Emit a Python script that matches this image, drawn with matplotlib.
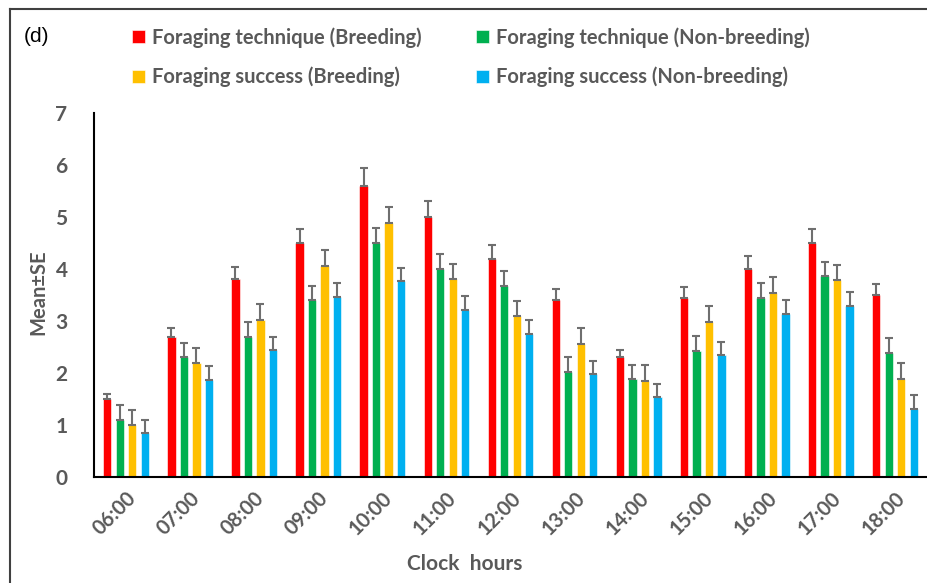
import numpy as np
import matplotlib
matplotlib.use('Agg')
import matplotlib.pyplot as plt
from matplotlib.lines import Line2D

plt.rcParams['font.family'] = ['Lato', 'DejaVu Sans']

#%% data
hours = ['06:00', '07:00', '08:00', '09:00', '10:00', '11:00', '12:00',
         '13:00', '14:00', '15:00', '16:00', '17:00', '18:00']

tech_breeding = [1.5, 2.7, 3.8, 4.5, 5.6, 5.0, 4.2, 3.4, 2.3, 3.45, 4.0, 4.5, 3.5]
tech_breeding_se = [0.10, 0.16, 0.23, 0.27, 0.34, 0.31, 0.26, 0.22, 0.15, 0.21, 0.25, 0.27, 0.21]

tech_nonbreeding = [1.1, 2.3, 2.7, 3.4, 4.5, 4.0, 3.68, 2.02, 1.88, 2.43, 3.45, 3.87, 2.39]
tech_nonbreeding_se = [0.28, 0.28, 0.28, 0.28, 0.28, 0.28, 0.28, 0.28, 0.28, 0.28, 0.28, 0.27, 0.28]

succ_breeding = [1.0, 2.2, 3.02, 4.06, 4.89, 3.8, 3.09, 2.55, 1.85, 2.99, 3.54, 3.78, 1.89]
succ_breeding_se = [0.29, 0.29, 0.30, 0.30, 0.30, 0.30, 0.30, 0.31, 0.30, 0.29, 0.30, 0.30, 0.30]

succ_nonbreeding = [0.85, 1.87, 2.45, 3.47, 3.77, 3.22, 2.75, 1.98, 1.53, 2.34, 3.14, 3.28, 1.31]
succ_nonbreeding_se = [0.25, 0.26, 0.25, 0.26, 0.25, 0.26, 0.26, 0.26, 0.25, 0.25, 0.26, 0.27, 0.26]

series = [
    ('Foraging technique (Breeding)', tech_breeding, tech_breeding_se, '#FF0000'),
    ('Foraging technique (Non-breeding)', tech_nonbreeding, tech_nonbreeding_se, '#00B050'),
    ('Foraging success (Breeding)', succ_breeding, succ_breeding_se, '#FFC000'),
    ('Foraging success (Non-breeding)', succ_nonbreeding, succ_nonbreeding_se, '#00B0F0'),
]

txt_col = '#595959'

#%% plot
fig = plt.figure(figsize=(9.27, 5.83), dpi=100)
ax = fig.add_axes([94/927, 1-477/583, 1-94/927, (477-113)/583])

x = np.arange(len(hours))
step = 0.195
width = 0.13
handles = []
for i, (name, vals, se, col) in enumerate(series):
    pos = x + (i - 1.5)*step
    b = ax.bar(pos, vals, width, color=col, edgecolor='white', linewidth=0.4, label=name)
    ax.errorbar(pos, vals, yerr=[np.zeros(len(se)), se], fmt='none',
                ecolor='#6f6f6f', elinewidth=1.5, capsize=3.2, capthick=1.5)
    handles.append(b)

ax.set_xlim(-0.5, len(hours)-0.5)
ax.set_ylim(0, 7)
ax.set_yticks(range(0, 8))
ax.set_xticks(x)
ax.set_xticklabels(hours, rotation=45, ha='right', rotation_mode='anchor')
ax.tick_params(axis='y', length=0, labelsize=15, labelcolor=txt_col, pad=19)
ax.tick_params(axis='x', length=0, labelsize=14.5, labelcolor=txt_col, pad=8)
for lab in ax.get_xticklabels() + ax.get_yticklabels():
    lab.set_fontweight('bold')
for s in ['top', 'right']:
    ax.spines[s].set_visible(False)
for s in ['left', 'bottom']:
    ax.spines[s].set_linewidth(1.5)
    ax.spines[s].set_color('black')

fig.text(38/927, 1-292/583, 'Mean±SE', rotation=90, ha='center', va='center',
         fontsize=14.5, fontweight='bold', color=txt_col)
fig.text(465/927, 1-564/583, 'Clock  hours', ha='center', va='center',
         fontsize=15, fontweight='bold', color=txt_col)
fig.text(24/927, 1-36/583, '(d)', ha='left', va='center', fontsize=15,
         color='black', family='Liberation Sans')

# legend: row1 red/green, row2 yellow/blue
order = [0, 2, 1, 3]
leg = fig.legend([handles[k] for k in order], [series[k][0] for k in order],
                 ncol=2, loc='upper left', bbox_to_anchor=(114/927, 1-9/583),
                 frameon=False, handlelength=0.65, handleheight=0.65, handletextpad=0.35,
                 columnspacing=2.7, labelspacing=0.95, fontsize=14.5)
for t in leg.get_texts():
    t.set_color(txt_col)
    t.set_fontweight('bold')

# outer frame
fig.add_artist(Line2D([10/927, 10/927], [0, 1-9/583], color='#404040', lw=1.5,
                      transform=fig.transFigure))
fig.add_artist(Line2D([10/927, 1], [1-9/583, 1-9/583], color='#404040', lw=1.5,
                      transform=fig.transFigure))

fig.savefig('out.png', dpi=100)
